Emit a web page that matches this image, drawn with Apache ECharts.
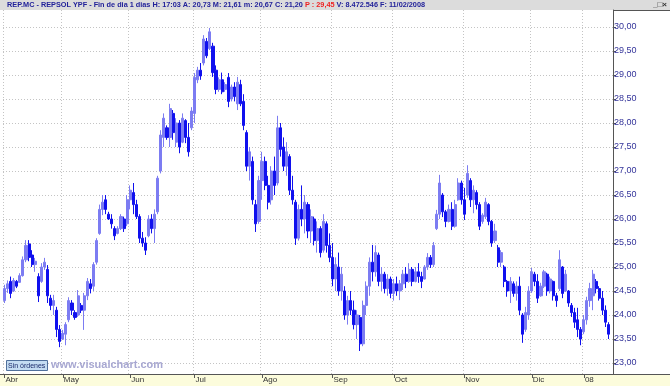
<!DOCTYPE html>
<html><head><meta charset="utf-8">
<script src="https://cdn.jsdelivr.net/npm/echarts@6/dist/echarts.min.js"></script>
<style>html,body{margin:0;padding:0;background:#fff}#c{width:670px;height:386px}</style>
</head><body><div id="c"></div>
<script>
// month labels shown on the time axis
const months = ['Abr','May','Jun','Jul','Ago','Sep','Oct','Nov','Dic','08'];
// daily candles per month: [open, close, low, high]
const abr = [[24.30,24.55,24.25,24.63],[24.55,24.65,24.46,24.72],[24.70,24.45,24.35,24.80],[24.50,24.72,24.48,24.77],[24.70,24.60,24.56,24.73],[24.68,24.82,24.67,24.87],[24.82,25.15,24.80,25.22],[25.15,25.45,25.10,25.56],[25.48,25.20,25.12,25.56],[25.25,25.05,25.00,25.35],[25.05,25.12,24.90,25.19],[24.80,24.40,24.27,24.87],[24.70,25.00,24.67,25.08],[25.00,25.10,24.94,25.19],[24.95,24.40,24.25,25.04],[24.35,24.20,24.10,24.42],[24.20,24.30,24.00,24.42],[24.10,23.70,23.54,24.17],[23.70,23.45,23.33,23.79]];
const may = [[23.50,23.62,23.48,23.69],[23.60,23.80,23.37,23.85],[23.90,24.30,23.85,24.37],[24.25,24.10,24.00,24.31],[24.05,23.95,23.90,24.10],[24.00,24.40,23.96,24.52],[24.20,24.10,24.04,24.25],[24.10,24.40,23.69,24.46],[24.40,24.70,24.31,24.77],[24.65,24.55,24.45,24.75],[24.60,25.05,24.50,25.10],[25.10,25.55,25.05,25.60],[25.70,26.20,25.67,26.30],[26.20,26.35,26.08,26.50],[26.40,26.20,26.10,26.50],[26.10,26.00,25.98,26.15],[26.00,25.90,25.80,26.10],[25.80,25.65,25.56,25.85],[25.70,25.80,25.68,25.85],[25.80,26.05,25.77,26.10],[26.00,25.80,25.73,26.05],[25.90,26.40,25.85,26.50]];
const jun = [[26.40,26.60,26.20,26.70],[26.55,26.30,26.10,26.75],[26.30,26.05,26.00,26.40],[26.05,25.60,25.50,26.10],[25.60,25.50,25.42,25.73],[25.50,25.35,25.25,25.62],[25.65,26.00,25.62,26.08],[26.00,25.80,25.70,26.10],[25.80,26.10,25.50,26.20],[26.15,26.85,26.10,26.90],[27.00,27.75,26.95,27.85],[27.70,28.10,27.50,28.20],[27.90,27.70,27.65,27.95],[27.70,28.30,27.50,28.40],[28.20,27.80,27.65,28.27],[27.60,28.00,27.50,28.10],[28.00,27.50,27.37,28.06],[27.60,28.10,27.58,28.20],[28.05,27.70,27.58,28.08],[27.70,27.40,27.30,28.00],[27.90,28.25,27.85,28.33]];
const jul = [[28.20,28.95,28.00,29.04],[28.90,29.10,28.83,29.17],[29.10,28.98,28.90,29.25],[29.25,29.75,29.20,29.83],[29.70,29.40,29.35,29.77],[29.55,29.90,29.52,29.98],[29.60,29.05,28.96,29.67],[29.10,28.70,28.60,29.20],[28.70,28.90,28.65,28.95],[28.90,28.65,28.60,29.05],[28.70,28.80,28.65,28.85],[28.95,28.45,28.33,29.04],[28.50,28.75,28.45,28.80],[28.75,28.55,28.45,28.85],[28.40,28.85,28.27,28.96],[28.80,28.40,28.35,28.90],[28.45,27.95,27.85,28.60],[27.80,27.10,27.00,27.85],[27.10,27.40,26.80,27.50],[27.20,26.40,26.30,27.30],[26.30,25.90,25.73,26.40],[25.95,26.80,25.90,26.90]];
const ago = [[26.80,27.20,26.40,27.40],[27.20,26.70,26.60,27.30],[26.70,26.35,26.20,26.90],[26.40,27.00,26.30,27.10],[27.00,26.70,26.50,27.30],[26.75,27.90,26.70,28.15],[27.90,27.45,27.30,28.00],[27.50,27.10,27.00,27.70],[27.10,27.40,26.90,27.60],[27.30,26.60,26.50,27.35],[26.60,26.40,26.30,26.90],[26.35,25.60,25.46,26.40],[25.60,26.20,25.55,26.30],[26.20,26.00,25.85,26.70],[26.00,26.35,25.70,26.50],[26.30,25.75,25.60,26.35],[25.75,26.05,25.50,26.20],[26.00,25.55,25.45,26.05],[25.55,25.80,25.30,25.95],[25.80,25.30,25.20,25.85],[25.35,25.95,25.30,26.10],[25.90,25.45,25.30,25.95],[25.45,25.20,25.10,25.70]];
const sep = [[25.20,24.75,24.60,25.50],[24.75,25.05,24.50,25.20],[25.00,24.50,24.40,25.30],[24.50,24.85,24.30,25.00],[24.50,24.00,23.90,24.60],[24.00,24.30,23.80,24.40],[24.30,24.10,24.00,24.50],[24.10,23.80,23.70,24.30],[23.80,24.00,23.50,24.10],[23.95,23.40,23.25,24.00],[23.40,24.20,23.35,24.30],[24.20,24.60,24.00,24.70],[24.60,25.10,24.40,25.20],[25.10,24.90,24.70,25.46],[24.90,25.30,24.80,25.45],[25.25,24.70,24.60,25.30],[24.70,24.85,24.50,25.00],[24.85,24.55,24.45,24.90],[24.55,24.75,24.40,24.85],[24.75,24.45,24.35,24.80]];
const oct = [[24.45,24.65,24.30,24.75],[24.65,24.50,24.40,24.80],[24.50,24.65,24.31,24.73],[24.65,24.85,24.52,24.94],[24.85,24.70,24.56,25.00],[24.70,24.95,24.67,25.08],[24.95,24.70,24.60,25.00],[24.70,24.90,24.68,25.00],[24.90,24.80,24.67,25.08],[24.80,24.70,24.56,24.90],[24.75,25.00,24.74,25.04],[25.00,25.20,24.94,25.29],[25.20,25.05,24.98,25.25],[25.05,25.45,25.00,25.52],[25.80,26.10,25.77,26.19],[26.10,26.75,26.00,26.92],[26.50,26.15,26.04,26.54],[26.15,25.95,25.83,26.19],[25.95,26.20,25.93,26.30],[26.20,25.85,25.77,26.35],[25.85,26.30,25.82,26.40],[26.40,26.75,26.38,26.85],[26.75,26.40,26.30,26.80]];
const nov = [[26.40,26.10,25.98,26.65],[26.50,26.95,26.44,27.12],[26.80,26.40,26.25,26.85],[26.40,26.60,26.12,26.70],[26.55,26.30,26.20,26.60],[26.30,25.85,25.77,26.35],[25.95,26.08,25.90,26.12],[26.05,26.35,26.00,26.44],[26.30,25.95,25.87,26.33],[25.95,25.50,25.42,25.98],[25.55,25.75,25.50,25.90],[25.40,25.10,25.00,25.46],[25.10,25.30,25.00,25.35],[25.00,24.70,24.58,25.04],[24.70,24.50,24.38,24.73],[24.50,24.70,24.25,24.79],[24.65,24.45,24.38,24.70],[24.45,24.60,24.30,24.70],[24.60,24.10,24.00,24.80],[24.00,23.60,23.42,24.04],[23.70,24.05,23.65,24.17],[24.00,24.50,23.90,24.60]];
const dic = [[24.50,24.90,24.46,24.98],[24.85,24.70,24.60,24.90],[24.70,24.35,24.25,24.85],[24.40,24.60,24.38,24.67],[24.60,24.90,24.56,24.94],[24.85,24.50,24.40,24.88],[24.50,24.75,24.45,24.80],[24.70,24.40,24.30,24.72],[24.40,24.30,24.17,24.46],[24.55,25.15,24.50,25.35],[25.00,24.45,24.35,25.02],[24.50,24.85,24.48,24.94],[24.50,24.25,24.17,24.52],[24.20,24.05,23.96,24.25],[24.05,23.85,23.73,24.15],[23.90,23.70,23.54,24.15],[23.70,23.50,23.37,23.75]];
const ene = [[23.65,23.90,23.60,24.00],[23.90,24.30,23.80,24.38],[24.30,24.55,24.17,24.67],[24.40,24.85,24.10,24.94],[24.70,24.55,24.45,24.75],[24.55,24.35,24.30,24.60],[24.35,24.10,24.00,24.50],[24.10,23.85,23.75,24.20],[23.80,23.60,23.50,23.85]];
// price axis
const priceMin = 23, priceMax = 30, priceStep = 0.5;

const byMonth = [abr, may, jun, jul, ago, sep, oct, nov, dic, ene];
const cats = [], ohlc = [], monthStart = new Set();
byMonth.forEach((arr, m) => {
  monthStart.add(cats.length);
  arr.forEach((d, k) => { cats.push(months[m] + '|' + (k + 1)); ohlc.push(d); });
});
cats.push('');
const isStart = (i) => monthStart.has(i);

const FONT = 'Liberation Sans, Arial, sans-serif';
const chart = echarts.init(document.getElementById('c'), null, {renderer: 'canvas'});
chart.setOption({
  animation: false,
  backgroundColor: '#ffffff',
  title: {
    left: 7, top: 1, padding: 0,
    text: '{a|REP.MC - REPSOL YPF - Fin de dia 1 dias H: 17:03 A: 20,73 M: 21,61 m: 20,67 C: 21,20 }{r|P : 29,45}{a| V: 8.472.546 F: 11/02/2008}',
    textStyle: {
      rich: {
        a: {fontSize: 7.3, fontFamily: FONT, color: '#22229a', lineHeight: 8},
        r: {fontSize: 7.3, fontFamily: FONT, color: '#ee2222', lineHeight: 8}
      }
    }
  },
  graphic: [
    {type: 'rect', z: -10, shape: {x: 0, y: 0, width: 670, height: 10}, style: {fill: '#dcdcdc'}},
    {type: 'rect', z: -10, shape: {x: 0, y: 374, width: 670, height: 12}, style: {fill: '#fcfcdc'}},
    {type: 'line', z: 5, shape: {x1: 0, y1: 374.5, x2: 670, y2: 374.5}, style: {stroke: '#555555', lineWidth: 1}},
    {type: 'line', z: 5, shape: {x1: 613, y1: 10.5, x2: 670, y2: 10.5}, style: {stroke: '#555555', lineWidth: 1}},
    {type: 'text', z: 5, style: {x: 667, y: 5, text: '_□×', align: 'right', verticalAlign: 'middle', font: 'bold 8px ' + FONT, fill: '#333333'}},
    {type: 'rect', z: 20, shape: {x: 6.5, y: 360.5, width: 41, height: 10}, style: {fill: '#c4dcf2', stroke: '#50709c', lineWidth: 1}},
    {type: 'text', z: 21, style: {x: 8, y: 366, text: 'Sin órdenes', verticalAlign: 'middle', font: '7px ' + FONT, fill: '#1a2a6a'}},
    {type: 'text', z: 21, style: {x: 51, y: 364.5, text: 'www.visualchart.com', verticalAlign: 'middle', font: 'bold 11px ' + FONT, fill: '#a8a8d2'}}
  ],
  grid: [
    {left: 3, right: 57, top: 27, bottom: 23},
    {left: 3, right: 57, top: 10, bottom: 12}
  ],
  xAxis: [
    {gridIndex: 0, type: 'category', data: cats, boundaryGap: true, show: false},
    {gridIndex: 1, type: 'category', data: cats, boundaryGap: true,
     axisLine: {show: true, lineStyle: {color: '#555555', width: 1}},
     axisTick: {show: true, alignWithLabel: true, length: 4, interval: (i) => isStart(i), lineStyle: {color: '#555555'}},
     axisLabel: {show: true, interval: (i) => isStart(i), formatter: (v) => v.split('|')[0], align: 'left', margin: 2, padding: [0, 0, 0, 1],
       fontSize: 8, fontFamily: FONT, color: '#333333', verticalAlign: 'top'},
     splitLine: {show: true, interval: (i) => isStart(i), lineStyle: {color: '#c4c4c4', type: [1, 2], width: 1}}
    }
  ],
  yAxis: [
    {gridIndex: 0, type: 'value', position: 'right', min: priceMin, max: priceMax, interval: priceStep,
     axisLine: {show: false},
     axisTick: {show: true, inside: false, length: 3, lineStyle: {color: '#555555'}},
     axisLabel: {formatter: (v) => v.toFixed(2).replace('.', ','), color: '#33339a', fontSize: 9, fontFamily: FONT, margin: 1},
     splitLine: {show: true, lineStyle: {color: '#c4c4c4', type: [1, 2], width: 1}}
    },
    {gridIndex: 1, type: 'value', position: 'right', min: 0, max: 1,
     axisLine: {show: true, lineStyle: {color: '#555555', width: 1}},
     axisTick: {show: false}, axisLabel: {show: false}, splitLine: {show: false}
    }
  ],
  series: [{
    type: 'candlestick', xAxisIndex: 0, yAxisIndex: 0, data: ohlc, barWidth: 2.6,
    itemStyle: {color: '#7c7cf2', color0: '#1010ee', borderColor: '#7c7cf2', borderColor0: '#1010ee', borderWidth: 1}
  }]
});
</script></body></html>
